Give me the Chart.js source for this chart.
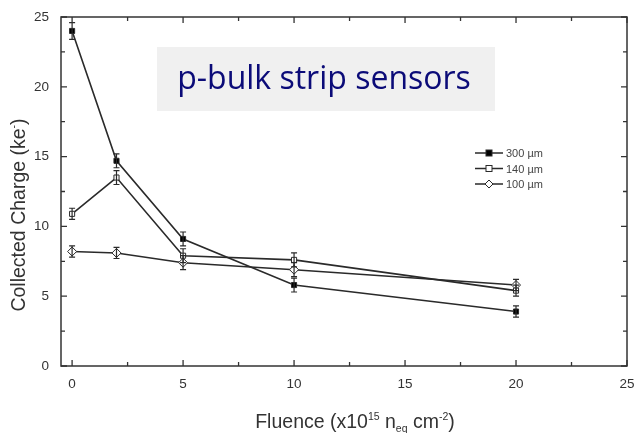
<!DOCTYPE html>
<html>
<head>
<meta charset="utf-8">
<script src="https://cdn.jsdelivr.net/npm/chart.js@4"></script>
<style>
  html, body { margin: 0; padding: 0; background: #fff; overflow: hidden; }
  #wrap { position: relative; width: 638px; height: 433px; }
</style>
</head>
<body>
<div id="wrap"><canvas id="chart"></canvas></div>
<script>
// ---- data -------------------------------------------------------------------
var fluence = [0, 2, 5, 10, 20];
var charge300 = [24.0, 14.7, 9.1, 5.8, 3.9];
var err300 = [0.6, 0.5, 0.5, 0.5, 0.4];
var charge140 = [10.9, 13.5, 7.9, 7.6, 5.4];
var err140 = [0.4, 0.5, 0.5, 0.5, 0.4];
var charge100 = [8.2, 8.1, 7.4, 6.9, 5.8];
var err100 = [0.4, 0.4, 0.5, 0.5, 0.4];
var seriesLabels = ['300 \u00b5m', '140 \u00b5m', '100 \u00b5m'];
var xTicks = [0, 5, 10, 15, 20, 25];
var yTicks = [0, 5, 10, 15, 20, 25];
var boxTitle = 'p-bulk strip sensors';

var ink = '#2a2a2a';

function points(ys) {
    return fluence.map(function (x, i) { return { x: x, y: ys[i] }; });
}

// error bars, inward ticks, frame, axis titles, legend, title box
var decorPlugin = {
    id: 'decor',
    afterDatasetsDraw: function (chart) {
        var c = chart.ctx, xs = chart.scales.x, ys = chart.scales.y, a = chart.chartArea;
        c.save();
        // error bars
        c.strokeStyle = ink;
        c.lineWidth = 1.2;
        chart.data.datasets.forEach(function (ds) {
            ds.data.forEach(function (p, i) {
                var px = xs.getPixelForValue(p.x);
                var top = ys.getPixelForValue(p.y + ds.errors[i]);
                var bot = ys.getPixelForValue(p.y - ds.errors[i]);
                c.beginPath();
                c.moveTo(px, top); c.lineTo(px, bot);
                c.moveTo(px - 3, top); c.lineTo(px + 3, top);
                c.moveTo(px - 3, bot); c.lineTo(px + 3, bot);
                c.stroke();
            });
        });
        // frame
        c.strokeStyle = '#333';
        c.lineWidth = 1.5;
        c.strokeRect(a.left, a.top, a.right - a.left, a.bottom - a.top);
        // inward ticks
        c.lineWidth = 1.3;
        c.beginPath();
        for (var v = 0; v <= 25; v += 2.5) {
            var len = (v % 5 === 0) ? 6 : 4;
            var px = xs.getPixelForValue(v);
            c.moveTo(px, a.bottom); c.lineTo(px, a.bottom - len);
            c.moveTo(px, a.top); c.lineTo(px, a.top + len);
            var py = ys.getPixelForValue(v);
            c.moveTo(a.left, py); c.lineTo(a.left + len, py);
            c.moveTo(a.right, py); c.lineTo(a.right - len, py);
        }
        c.stroke();

        // axis titles with super/subscripts
        c.fillStyle = '#333';
        c.textBaseline = 'alphabetic';
        var big = '19.5px "Liberation Sans", Arial, sans-serif';
        var small = '10.5px "Liberation Sans", Arial, sans-serif';
        function run(parts, x, y) {
            var w = 0;
            parts.forEach(function (p) { c.font = p[1] ? small : big; w += c.measureText(p[0]).width; });
            var cx = x - w / 2;
            parts.forEach(function (p) {
                c.font = p[1] ? small : big;
                var dy = p[1] === 'sup' ? -8 : (p[1] === 'sub' ? 4 : 0);
                c.textAlign = 'left';
                c.fillText(p[0], cx, y + dy);
                cx += c.measureText(p[0]).width;
            });
        }
        run([['Fluence (x10'], ['15', 'sup'], [' n'], ['eq', 'sub'], [' cm'], ['-2', 'sup'], [')']], 355, 428);
        c.save();
        c.translate(25, 215);
        c.rotate(-Math.PI / 2);
        run([['Collected Charge (ke'], ['-', 'sup'], [')']], 0, 0);
        c.restore();

        // legend
        c.font = '11px "Liberation Sans", Arial, sans-serif';
        c.textAlign = 'left';
        c.textBaseline = 'middle';
        chart.data.datasets.forEach(function (ds, i) {
            var ly = 153 + i * 15.5;
            c.strokeStyle = ink;
            c.lineWidth = 1.5;
            c.beginPath(); c.moveTo(475, ly); c.lineTo(503, ly); c.stroke();
            c.fillStyle = ds.pointBackgroundColor;
            c.lineWidth = 1;
            if (ds.pointStyle === 'rectRot') {
                c.beginPath();
                c.moveTo(489, ly - 4); c.lineTo(493, ly); c.lineTo(489, ly + 4); c.lineTo(485, ly);
                c.closePath(); c.fill(); c.stroke();
            } else {
                c.fillRect(486, ly - 3, 6, 6);
                c.strokeRect(486, ly - 3, 6, 6);
            }
            c.fillStyle = '#444';
            c.fillText(ds.label, 506, ly + 1);
        });

        // title box
        c.fillStyle = '#f0f0f0';
        c.fillRect(157, 47, 338, 64);
        c.fillStyle = '#0b0b78';
        c.font = '32px "Open Sans", "Noto Sans", sans-serif';
        c.textAlign = 'center';
        c.textBaseline = 'middle';
        c.fillText(boxTitle, 324, 80);
        c.restore();
    }
};

function series(label, ys, errs, style, fill) {
    return {
        label: label,
        data: points(ys),
        errors: errs,
        borderColor: ink,
        borderWidth: 1.6,
        pointStyle: style,
        pointRadius: style === 'rectRot' ? 4.5 : 3.6,
        pointBackgroundColor: fill,
        pointBorderColor: ink,
        pointBorderWidth: 1,
        tension: 0
    };
}

new Chart(document.getElementById('chart'), {
    type: 'line',
    data: {
        datasets: [
            series(seriesLabels[0], charge300, err300, 'rect', '#000'),
            series(seriesLabels[1], charge140, err140, 'rect', '#fff'),
            series(seriesLabels[2], charge100, err100, 'rectRot', '#fff')
        ]
    },
    options: {
        responsive: true,
        maintainAspectRatio: false,
        animation: false,
        layout: { padding: { top: 17, right: 11, left: 0, bottom: 0 } },
        plugins: {
            legend: { display: false },
            tooltip: { enabled: false }
        },
        scales: {
            x: {
                type: 'linear',
                min: -0.5,
                max: 25,
                afterBuildTicks: function (s) { s.ticks = xTicks.map(function (v) { return { value: v }; }); },
                afterFit: function (s) { s.height = 67; s.paddingRight = 0; s.paddingLeft = 0; },
                grid: { drawOnChartArea: false, drawTicks: false },
                border: { display: false },
                ticks: {
                    padding: 10,
                    color: '#333',
                    font: { size: 13.5, family: '"Liberation Sans", Arial, sans-serif' }
                }
            },
            y: {
                min: 0,
                max: 25,
                afterBuildTicks: function (s) { s.ticks = yTicks.map(function (v) { return { value: v }; }); },
                afterFit: function (s) { s.width = 61; s.paddingTop = 0; s.paddingBottom = 0; },
                grid: { drawOnChartArea: false, drawTicks: false },
                border: { display: false },
                ticks: {
                    padding: 12,
                    color: '#333',
                    font: { size: 13.5, family: '"Liberation Sans", Arial, sans-serif' }
                }
            }
        }
    },
    plugins: [decorPlugin]
});
</script>
</body>
</html>
